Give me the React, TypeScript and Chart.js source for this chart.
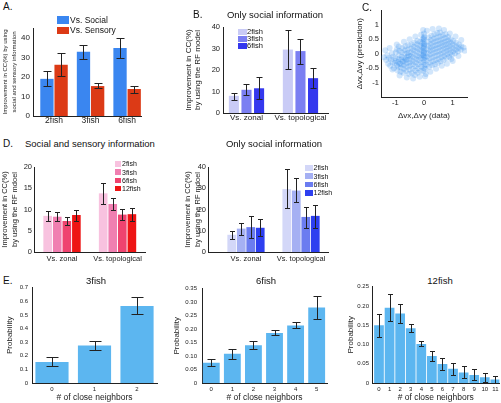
import React, { useEffect, useRef } from 'react';
import { Chart, registerables } from 'chart.js';
Chart.register(...registerables);

const FONT = "'Liberation Sans', Arial, Helvetica, sans-serif";
Chart.defaults.font.family = FONT;
Chart.defaults.color = '#222';

// ---------------- DATA ----------------
// Panel A
const aCategories = ['2fish', '3fish', '6fish'];
const aSocial = [19, 32.8, 34.8];
const aSocialLow = [15.3, 29.1, 29.7];
const aSocialHigh = [23.1, 36.2, 40];
const aSensory = [26.2, 15.3, 13.8];
const aSensoryLow = [20.2, 14.1, 11.6];
const aSensoryHigh = [32.2, 16.7, 15.5];
const aYTicks = [0, 10, 20, 30, 40];

// Panel B (only social information, 2/3/6 fish)
const bCategories = ['Vs. zonal', 'Vs. topological'];
const b2fish = [8, 29.5];
const b2fishLow = [6.2, 20.3];
const b2fishHigh = [9.5, 38.8];
const b3fish = [10.8, 28.8];
const b3fishLow = [8.2, 22.8];
const b3fishHigh = [13.4, 34.3];
const b6fish = [11.5, 16.2];
const b6fishLow = [6.5, 11.5];
const b6fishHigh = [16.6, 21.1];
const bYTicks = [0, 10, 20, 30, 40];

// Panel C (scatter, prediction vs data)
const cPoints: [number, number][] = [
  [-1.32, -0.22], [-1.28, -0.05], [-1.25, -0.35], [-1.22, -0.15],
  [-1.18, -0.42], [-1.15, -0.2], [-1.12, 0.02], [-1.1, -0.3], [-1.08, -0.1],
  [-1.05, -0.5], [-1.02, -0.32], [-1.0, -0.15], [-0.98, 0.05], [-0.97, -0.25], [-0.95, -0.4], [-0.95, 0.15],
  [-0.92, -0.58], [-0.9, -0.45], [-0.9, -0.28], [-0.88, -0.18], [-0.87, -0.05], [-0.86, 0.1], [-0.85, -0.35],
  [-0.82, -0.62], [-0.8, -0.48], [-0.8, -0.36], [-0.79, -0.2], [-0.78, -0.1], [-0.77, 0.05], [-0.76, 0.2], [-0.75, -0.28],
  [-0.72, -0.66], [-0.7, -0.52], [-0.7, -0.4], [-0.69, -0.27], [-0.68, -0.14], [-0.67, 0.0], [-0.66, 0.12], [-0.65, 0.26], [-0.64, -0.2],
  [-0.62, -0.6], [-0.6, -0.45], [-0.6, -0.33], [-0.59, -0.22], [-0.58, -0.1], [-0.57, 0.03], [-0.56, 0.15], [-0.55, 0.3], [-0.54, -0.05],
  [-0.52, -0.7], [-0.5, -0.55], [-0.5, -0.42], [-0.49, -0.3], [-0.48, -0.18], [-0.47, -0.08], [-0.46, 0.05], [-0.45, 0.18], [-0.44, 0.32],
  [-0.42, -0.68], [-0.4, -0.52], [-0.4, -0.36], [-0.39, -0.25], [-0.38, -0.12], [-0.37, 0.0], [-0.36, 0.12], [-0.35, 0.24], [-0.34, 0.38],
  [-0.32, -0.74], [-0.3, -0.58], [-0.3, -0.43], [-0.29, -0.3], [-0.28, -0.18], [-0.27, -0.06], [-0.26, 0.08], [-0.25, 0.2], [-0.24, 0.33], [-0.23, 0.45],
  [-0.22, -0.66], [-0.2, -0.5], [-0.2, -0.36], [-0.19, -0.22], [-0.18, -0.1], [-0.17, 0.02], [-0.16, 0.15], [-0.15, 0.28], [-0.14, 0.42],
  [-0.12, -0.6], [-0.1, -0.44], [-0.1, -0.3], [-0.09, -0.16], [-0.08, -0.04], [-0.07, 0.1], [-0.06, 0.22], [-0.05, 0.36], [-0.04, 0.5],
  [-0.02, -0.6], [0.0, -0.5], [0.01, -0.4], [-0.01, -0.3], [0.0, -0.22], [0.02, -0.14], [-0.02, -0.06], [0.0, 0.02], [0.01, 0.1],
  [-0.01, 0.18], [0.0, 0.26], [0.02, 0.34], [-0.02, 0.42], [0.0, 0.5], [0.01, 0.6], [0.0, 0.7], [0.0, -0.1], [0.0, 0.06], [0.01, 0.3], [-0.01, 0.55],
  [0.05, -0.52], [0.08, -0.38], [0.1, -0.24], [0.11, -0.1], [0.12, 0.03], [0.13, 0.16], [0.14, 0.28], [0.15, 0.42], [0.16, 0.56],
  [0.18, -0.45], [0.2, -0.3], [0.2, -0.16], [0.21, -0.03], [0.22, 0.1], [0.23, 0.22], [0.24, 0.35], [0.25, 0.48], [0.26, 0.62],
  [0.28, -0.4], [0.3, -0.26], [0.3, -0.12], [0.31, 0.02], [0.32, 0.15], [0.33, 0.27], [0.34, 0.4], [0.35, 0.53], [0.36, 0.68],
  [0.38, -0.36], [0.4, -0.22], [0.4, -0.08], [0.41, 0.05], [0.42, 0.18], [0.43, 0.3], [0.44, 0.43], [0.45, 0.56], [0.46, 0.72],
  [0.48, -0.32], [0.5, -0.18], [0.5, -0.04], [0.51, 0.09], [0.52, 0.22], [0.53, 0.34], [0.54, 0.46], [0.55, 0.6], [0.56, 0.74],
  [0.58, -0.26], [0.6, -0.12], [0.6, 0.0], [0.61, 0.13], [0.62, 0.26], [0.63, 0.38], [0.64, 0.5], [0.65, 0.64],
  [0.68, -0.22], [0.7, -0.08], [0.7, 0.05], [0.71, 0.18], [0.72, 0.3], [0.73, 0.42], [0.74, 0.55], [0.75, 0.68],
  [0.78, -0.15], [0.8, -0.02], [0.8, 0.1], [0.81, 0.22], [0.82, 0.34], [0.83, 0.46], [0.84, 0.58],
  [0.88, -0.1], [0.9, 0.03], [0.9, 0.15], [0.91, 0.27], [0.92, 0.39], [0.93, 0.5],
  [0.98, -0.04], [1.0, 0.08], [1.0, 0.2], [1.01, 0.32], [1.02, 0.44],
  [1.08, 0.02], [1.1, 0.14], [1.11, 0.26], [1.12, 0.38],
  [1.18, 0.08], [1.2, 0.2], [1.22, 0.32],
  [1.28, 0.14], [1.3, 0.26], [1.38, 0.22],
  // sparse outliers around the cloud
  [-1.4, -0.12], [-1.35, 0.12], [-1.2, 0.2], [-1.1, -0.55], [-0.95, 0.32], [-0.85, -0.75], [-0.7, 0.42],
  [-0.6, -0.82], [-0.5, 0.5], [-0.38, -0.86], [-0.3, 0.6], [-0.15, -0.8], [-0.1, 0.66], [0.06, -0.7],
  [0.1, 0.8], [0.22, -0.62], [0.3, 0.86], [0.42, -0.52], [0.52, 0.88], [0.62, -0.42], [0.7, 0.82],
  [0.8, -0.35], [0.9, 0.7], [1.0, -0.25], [1.1, 0.6], [1.2, -0.08], [1.3, 0.48], [1.42, 0.1],
  [-0.03, 0.82], [0.04, -0.78], [-0.88, 0.25], [0.95, -0.18],
];
const cXTicks = [-1, 0, 1];
const cYTicks = [-1, -0.5, 0, 0.5, 1];

// Panel D left (social and sensory information)
const dCategories = ['Vs. zonal', 'Vs. topological'];
const d2fish = [8.5, 13.8];
const d2fishLow = [7.2, 11.2];
const d2fishHigh = [9.7, 16.3];
const d3fish = [8.3, 11.3];
const d3fishLow = [7.2, 9.9];
const d3fishHigh = [9.3, 12.8];
const d6fish = [7.3, 8.8];
const d6fishLow = [6.3, 7.5];
const d6fishHigh = [8.3, 10.1];
const d12fish = [8.7, 8.9];
const d12fishLow = [7.4, 7.4];
const d12fishHigh = [10, 10.3];
const dYTicks = [0, 5, 10, 15, 20];

// Panel D right (only social information)
const eCategories = ['Vs. zonal', 'Vs. topological'];
const e2fish = [8.1, 29.6];
const e2fishLow = [6.2, 20.7];
const e2fishHigh = [9.9, 39];
const e3fish = [11, 28.9];
const e3fishLow = [7.8, 23.6];
const e3fishHigh = [13.6, 34.8];
const e6fish = [11.7, 16.5];
const e6fishLow = [6.8, 11.5];
const e6fishHigh = [16.8, 21.3];
const e12fish = [11.4, 17];
const e12fishLow = [7.3, 11.5];
const e12fishHigh = [15.6, 22];
const eYTicks = [0, 10, 20, 30, 40];

// Panel E (probability of # close neighbors)
const f3Labels = ['0', '1', '2'];
const f3Values = [0.155, 0.275, 0.565];
const f3Low = [0.125, 0.245, 0.505];
const f3High = [0.19, 0.31, 0.63];
const f3YTicks = [0, 0.1, 0.2, 0.3, 0.4, 0.5, 0.6, 0.7];

const f6Labels = ['0', '1', '2', '3', '4', '5'];
const f6Values = [0.075, 0.108, 0.14, 0.185, 0.213, 0.28];
const f6Low = [0.063, 0.09, 0.125, 0.177, 0.203, 0.238];
const f6High = [0.09, 0.125, 0.155, 0.197, 0.227, 0.322];
const f6YTicks = [0, 0.05, 0.1, 0.15, 0.2, 0.25, 0.3, 0.35];

const f12Labels = ['0', '1', '2', '3', '4', '5', '6', '7', '8', '9', '10', '11'];
const f12Values = [0.15, 0.195, 0.18, 0.142, 0.101, 0.07, 0.049, 0.037, 0.027, 0.021, 0.015, 0.009];
const f12Low = [0.12, 0.162, 0.155, 0.133, 0.095, 0.058, 0.035, 0.022, 0.012, 0.007, 0.003, 0.001];
const f12High = [0.18, 0.23, 0.205, 0.152, 0.108, 0.083, 0.064, 0.053, 0.043, 0.036, 0.027, 0.018];
const f12YTicks = [0, 0.05, 0.1, 0.15, 0.2, 0.25];

// ---------------- HELPERS ----------------
const errorBarPlugin = {
  id: 'errorBars',
  afterDatasetsDraw(chart: any) {
    const { ctx } = chart;
    const yScale = chart.scales.y;
    chart.data.datasets.forEach((ds: any, i: number) => {
      if (!ds.errLow) return;
      const meta = chart.getDatasetMeta(i);
      meta.data.forEach((bar: any, j: number) => {
        const x = Math.round(bar.x) + 0.5;
        const yl = Math.round(yScale.getPixelForValue(ds.errLow[j])) + 0.5;
        const yh = Math.round(yScale.getPixelForValue(ds.errHigh[j])) + 0.5;
        const c = ds.capWidth / 2;
        ctx.save();
        ctx.strokeStyle = '#222';
        ctx.lineWidth = 1;
        ctx.beginPath();
        ctx.moveTo(x, yl); ctx.lineTo(x, yh);
        ctx.moveTo(x - c, yl); ctx.lineTo(x + c, yl);
        ctx.moveTo(x - c, yh); ctx.lineTo(x + c, yh);
        ctx.stroke();
        ctx.restore();
      });
    });
  },
};

type Series = { values: number[]; low: number[]; high: number[]; color: string };
type BarSpec = {
  xs: number[]; xLabels: string[]; xMin: number; xMax: number;
  yMin: number; yMax: number; yTicks: number[]; yFmt: (v: number) => string;
  series: Series[]; catPct: number; barPct: number; cap: number;
  yw: number; xh: number; pt: number; pr: number;
  yTitle: string[] | string; yTitleSize: number; yTitleLH: number; yTitlePad: number;
  xTitle?: string; xTitleSize?: number;
  yTickSize: number; xTickSize: number; xTickPad: number; yTickPad: number;
};

function axisCommon() {
  return {
    bounds: 'data',
    offset: false,
    grid: { display: false, drawTicks: false, offset: false },
    border: { display: true, color: '#222', width: 1 },
  };
}

function barConfig(p: BarSpec) {
  return {
    type: 'bar',
    data: {
      datasets: p.series.map((s) => ({
        data: s.values.map((v, i) => ({ x: p.xs[i], y: v })),
        backgroundColor: s.color,
        borderWidth: 0,
        errLow: s.low,
        errHigh: s.high,
        capWidth: p.cap,
        categoryPercentage: p.catPct,
        barPercentage: p.barPct,
      })),
    },
    options: {
      animation: false,
      responsive: false,
      devicePixelRatio: 1,
      events: [],
      layout: { padding: { top: p.pt, right: p.pr, left: 0, bottom: 0 } },
      plugins: { legend: { display: false }, tooltip: { enabled: false } },
      scales: {
        x: {
          type: 'linear',
          ...axisCommon(),
          min: p.xMin,
          max: p.xMax,
          afterBuildTicks: (s: any) => { s.ticks = p.xs.map((v) => ({ value: v })); },
          afterFit: (s: any) => { s.height = p.xh; },
          ticks: {
            callback: (v: number) => { const k = p.xs.indexOf(v); return k >= 0 ? p.xLabels[k] : ''; },
            font: { size: p.xTickSize }, padding: p.xTickPad, maxRotation: 0, minRotation: 0, autoSkip: false, color: '#222',
          },
          title: p.xTitle
            ? { display: true, text: p.xTitle, font: { size: p.xTitleSize, lineHeight: 1.15 }, padding: { top: 0, bottom: 0 }, color: '#222' }
            : { display: false },
        },
        y: {
          type: 'linear',
          ...axisCommon(),
          min: p.yMin,
          max: p.yMax,
          afterBuildTicks: (s: any) => { s.ticks = p.yTicks.map((v) => ({ value: v })); },
          afterFit: (s: any) => { s.width = p.yw; },
          ticks: { callback: (v: number) => p.yFmt(v), font: { size: p.yTickSize }, padding: p.yTickPad, color: '#222' },
          title: {
            display: true, text: p.yTitle,
            font: { size: p.yTitleSize, lineHeight: p.yTitleLH / p.yTitleSize },
            padding: { top: p.yTitlePad, bottom: 0 }, color: '#222',
          },
        },
      },
    },
    plugins: [errorBarPlugin],
  };
}

function scatterConfig() {
  return {
    type: 'scatter',
    data: {
      datasets: [{
        data: cPoints.map(([x, y]) => ({ x, y })),
        backgroundColor: 'rgba(30,130,235,0.2)',
        borderWidth: 0,
        pointRadius: 3,
      }],
    },
    options: {
      animation: false,
      responsive: false,
      devicePixelRatio: 1,
      events: [],
      layout: { padding: { top: 5, right: 6, left: 0, bottom: 0 } },
      plugins: { legend: { display: false }, tooltip: { enabled: false } },
      scales: {
        x: {
          type: 'linear', ...axisCommon(), min: -1.5, max: 1.5,
          afterBuildTicks: (s: any) => { s.ticks = cXTicks.map((v) => ({ value: v })); },
          afterFit: (s: any) => { s.height = 23; },
          ticks: { callback: (v: number) => String(v), font: { size: 7.5 }, padding: 1, color: '#222', maxRotation: 0 },
          title: { display: true, text: 'Δvx,Δvy (data)', font: { size: 8, lineHeight: 1.15 }, padding: { top: 0, bottom: 0 }, color: '#222' },
        },
        y: {
          type: 'linear', ...axisCommon(), min: -1.5, max: 1.5,
          afterBuildTicks: (s: any) => { s.ticks = cYTicks.map((v) => ({ value: v })); },
          afterFit: (s: any) => { s.width = 26; },
          ticks: { callback: (v: number) => String(v), font: { size: 7.5 }, padding: 2, color: '#222' },
          title: { display: true, text: 'Δvx,Δvy (prediction)', font: { size: 8, lineHeight: 1.15 }, padding: { top: 0.5, bottom: 0 }, color: '#222' },
        },
      },
    },
  };
}

type Box = { left: number; top: number; width: number; height: number };

function ChartCanvas({ box, make }: { box: Box; make: () => any }) {
  const ref = useRef<HTMLCanvasElement>(null);
  useEffect(() => {
    const chart = new Chart(ref.current as HTMLCanvasElement, make());
    return () => chart.destroy();
  }, []);
  return (
    <canvas
      ref={ref}
      width={box.width}
      height={box.height}
      style={{ position: 'absolute', left: box.left, top: box.top, width: box.width, height: box.height }}
    />
  );
}

function Txt({ x, cy, size, children, center }: { x: number; cy: number; size: number; children: React.ReactNode; center?: boolean }) {
  return (
    <div
      style={{
        position: 'absolute', left: x, top: cy - size * 0.49, fontSize: size, lineHeight: `${size}px`,
        fontFamily: FONT, color: '#111', whiteSpace: 'nowrap',
        transform: center ? 'translateX(-50%)' : undefined,
      }}
    >
      {children}
    </div>
  );
}

function Legend({ x, top, sw, sh, step, textX, size, items }: {
  x: number; top: number; sw: number; sh: number; step: number; textX: number; size: number;
  items: { label: string; color: string }[];
}) {
  return (
    <>
      {items.map((it, i) => (
        <React.Fragment key={it.label}>
          <div style={{ position: 'absolute', left: x, top: top + i * step, width: sw, height: sh, background: it.color }} />
          <Txt x={textX} cy={top + i * step + sh / 2} size={size}>{it.label}</Txt>
        </React.Fragment>
      ))}
    </>
  );
}

const fmtInt = (v: number) => String(v);
const fmt1 = (v: number) => (v === 0 ? '0' : v.toFixed(1));
const fmt2 = (v: number) => (v === 0 ? '0' : v.toFixed(2));

const A_BLUE = '#3a86f0';
const A_RED = '#dc3a16';
const B_COLORS = ['#c9cbf6', '#7b7ff2', '#3438ee'];
const D_COLORS = ['#f8c2df', '#f07fb1', '#ef436f', '#ee1414'];
const E_COLORS = ['#d3d7f8', '#a5b0f3', '#6b7cf0', '#2d3ff0'];
const F_COLOR = '#5cb6f0';

const panelA = () => barConfig({
  xs: [0, 1, 2], xLabels: aCategories, xMin: -0.575, xMax: 2.38,
  yMin: 0, yMax: 45, yTicks: aYTicks, yFmt: fmtInt,
  series: [
    { values: aSocial, low: aSocialLow, high: aSocialHigh, color: A_BLUE },
    { values: aSensory, low: aSensoryLow, high: aSensoryHigh, color: A_RED },
  ],
  catPct: 0.775, barPct: 0.94, cap: 8,
  yw: 33, xh: 16, pt: 8, pr: 4,
  yTitle: ['Improvement in CC(%) by using', 'social and sensory information'], yTitleSize: 6, yTitleLH: 9, yTitlePad: 0.5,
  yTickSize: 8, xTickSize: 8.5, xTickPad: 0, yTickPad: 3,
});

const panelB = () => barConfig({
  xs: [0, 1], xLabels: bCategories, xMin: -0.435, xMax: 1.51,
  yMin: 0, yMax: 40, yTicks: bYTicks, yFmt: fmtInt,
  series: [
    { values: b2fish, low: b2fishLow, high: b2fishHigh, color: B_COLORS[0] },
    { values: b3fish, low: b3fishLow, high: b3fishHigh, color: B_COLORS[1] },
    { values: b6fish, low: b6fishLow, high: b6fishHigh, color: B_COLORS[2] },
  ],
  catPct: 0.7, barPct: 0.8, cap: 6,
  yw: 40, xh: 14, pt: 8, pr: 3,
  yTitle: ['Improvement in CC(%)', 'by using the RF model'], yTitleSize: 8, yTitleLH: 9, yTitlePad: 1.5,
  yTickSize: 7.5, xTickSize: 8, xTickPad: 0, yTickPad: 3,
});

const panelD = () => barConfig({
  xs: [0, 1], xLabels: dCategories, xMin: -0.505, xMax: 1.495,
  yMin: 0, yMax: 20, yTicks: dYTicks, yFmt: fmtInt,
  series: [
    { values: d2fish, low: d2fishLow, high: d2fishHigh, color: D_COLORS[0] },
    { values: d3fish, low: d3fishLow, high: d3fishHigh, color: D_COLORS[1] },
    { values: d6fish, low: d6fishLow, high: d6fishHigh, color: D_COLORS[2] },
    { values: d12fish, low: d12fishLow, high: d12fishHigh, color: D_COLORS[3] },
  ],
  catPct: 0.69, barPct: 0.9, cap: 5,
  yw: 34, xh: 14, pt: 8, pr: 3,
  yTitle: ['Improvement in CC(%)', 'by using the RF mdoel'], yTitleSize: 7.5, yTitleLH: 10, yTitlePad: 0,
  yTickSize: 7.5, xTickSize: 7.5, xTickPad: 2.5, yTickPad: 2,
});

const panelD2 = () => barConfig({
  xs: [0, 1], xLabels: eCategories, xMin: -0.69, xMax: 1.49,
  yMin: 0, yMax: 40, yTicks: eYTicks, yFmt: fmtInt,
  series: [
    { values: e2fish, low: e2fishLow, high: e2fishHigh, color: E_COLORS[0] },
    { values: e3fish, low: e3fishLow, high: e3fishHigh, color: E_COLORS[1] },
    { values: e6fish, low: e6fishLow, high: e6fishHigh, color: E_COLORS[2] },
    { values: e12fish, low: e12fishLow, high: e12fishHigh, color: E_COLORS[3] },
  ],
  catPct: 0.69, barPct: 0.92, cap: 5,
  yw: 25, xh: 14, pt: 8, pr: 3,
  yTitle: ['Improvement in CC(%)', 'by using the RF mdoel'], yTitleSize: 7.5, yTitleLH: 9.5, yTitlePad: 0.3,
  yTickSize: 7.5, xTickSize: 7.5, xTickPad: 2.5, yTickPad: 2,
});

const eCommon = {
  catPct: 1, yw: 0, xh: 20, pt: 6,
  yTitle: 'Probability', yTitleSize: 8, yTitleLH: 9,
  xTitle: '# of close neighbors', xTitleSize: 8.5,
  yTickSize: 6, xTickSize: 6, xTickPad: 2.5,
};

const panelE1 = () => barConfig({
  ...eCommon,
  xs: [0, 1, 2], xLabels: f3Labels, xMin: -0.47, xMax: 2.47,
  yMin: 0, yMax: 0.7, yTicks: f3YTicks, yFmt: fmt1,
  series: [{ values: f3Values, low: f3Low, high: f3High, color: F_COLOR }],
  barPct: 0.78, cap: 12, yw: 28, pr: 3, yTitlePad: 1.5, yTickPad: 4,
});

const panelE2 = () => barConfig({
  ...eCommon,
  xs: [0, 1, 2, 3, 4, 5], xLabels: f6Labels, xMin: -0.44, xMax: 5.49,
  yMin: 0, yMax: 0.35, yTicks: f6YTicks, yFmt: fmt2,
  series: [{ values: f6Values, low: f6Low, high: f6High, color: F_COLOR }],
  barPct: 0.8, cap: 8, yw: 31, pr: 3, yTitlePad: 1.2, yTickPad: 5,
});

const panelE3 = () => barConfig({
  ...eCommon,
  xs: [0, 1, 2, 3, 4, 5, 6, 7, 8, 9, 10, 11], xLabels: f12Labels, xMin: -0.66, xMax: 11.38,
  yMin: 0, yMax: 0.25, yTicks: f12YTicks, yFmt: fmt2,
  series: [{ values: f12Values, low: f12Low, high: f12High, color: F_COLOR }],
  barPct: 0.92, cap: 5, yw: 27, pr: 1, yTitlePad: 1.2, yTickPad: 3,
});

export default function App() {
  return (
    <div style={{ position: 'absolute', left: 0, top: 0, width: 501, height: 403, background: '#fff', overflow: 'hidden', fontFamily: FONT }}>
      {/* Panel A */}
      <Txt x={3} cy={7} size={10}>A.</Txt>
      <ChartCanvas box={{ left: 0, top: 20, width: 145, height: 112 }} make={panelA} />
      <Legend x={57} top={16} sw={11.5} sh={7.5} step={10.5} textX={70} size={8.5}
        items={[{ label: 'Vs. Social', color: A_BLUE }, { label: 'Vs. Sensory', color: A_RED }]} />

      {/* Panel B */}
      <Txt x={193} cy={15} size={10}>B.</Txt>
      <Txt x={275} cy={15} size={9.5} center>Only social information</Txt>
      <ChartCanvas box={{ left: 183, top: 19, width: 148, height: 108 }} make={panelB} />
      <Legend x={238} top={29} sw={8.5} sh={5.5} step={7.2} textX={247} size={7.5}
        items={[{ label: '2fish', color: B_COLORS[0] }, { label: '3fish', color: B_COLORS[1] }, { label: '6fish', color: B_COLORS[2] }]} />

      {/* Panel C */}
      <Txt x={362} cy={7.5} size={10}>C.</Txt>
      <ChartCanvas box={{ left: 355, top: 4, width: 118, height: 116 }} make={scatterConfig} />

      {/* Panel D left */}
      <Txt x={3} cy={144} size={10}>D.</Txt>
      <Txt x={25} cy={144} size={9.5}>Social and sensory information</Txt>
      <ChartCanvas box={{ left: 0, top: 159, width: 148, height: 107 }} make={panelD} />
      <Legend x={114.5} top={161} sw={6.5} sh={5.5} step={8.3} textX={122} size={7}
        items={[{ label: '2fish', color: D_COLORS[0] }, { label: '3fish', color: D_COLORS[1] }, { label: '6fish', color: D_COLORS[2] }, { label: '12fish', color: D_COLORS[3] }]} />

      {/* Panel D right */}
      <Txt x={274} cy={144} size={9.5} center>Only social information</Txt>
      <ChartCanvas box={{ left: 183, top: 159, width: 148, height: 107 }} make={panelD2} />
      <Legend x={305} top={165} sw={8.3} sh={5.7} step={8.3} textX={313.5} size={7}
        items={[{ label: '2fish', color: E_COLORS[0] }, { label: '3fish', color: E_COLORS[1] }, { label: '6fish', color: E_COLORS[2] }, { label: '12fish', color: E_COLORS[3] }]} />

      {/* Panel E */}
      <Txt x={3} cy={281} size={10}>E.</Txt>
      <Txt x={96} cy={281} size={9.5} center>3fish</Txt>
      <Txt x={266} cy={281} size={9.5} center>6fish</Txt>
      <Txt x={440} cy={281} size={9.5} center>12fish</Txt>
      <ChartCanvas box={{ left: 4, top: 280, width: 156, height: 123 }} make={panelE1} />
      <ChartCanvas box={{ left: 171, top: 280, width: 159, height: 123 }} make={panelE2} />
      <ChartCanvas box={{ left: 345, top: 280, width: 156, height: 123 }} make={panelE3} />
    </div>
  );
}
